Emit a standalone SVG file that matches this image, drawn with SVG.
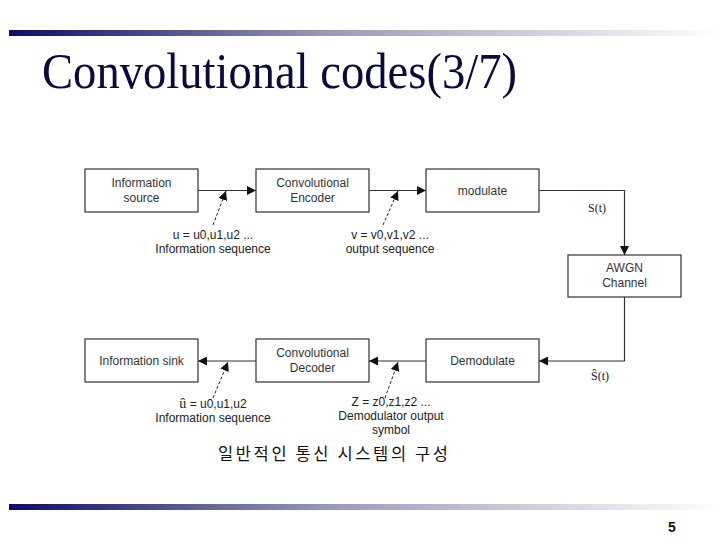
<svg xmlns="http://www.w3.org/2000/svg" width="720" height="540" viewBox="0 0 720 540">
<defs>
<linearGradient id="bar" x1="0" y1="0" x2="1" y2="0">
<stop offset="0" stop-color="#0c0c66"/>
<stop offset="0.45" stop-color="#9a9ab8"/>
<stop offset="1" stop-color="#ffffff"/>
</linearGradient>
<marker id="ah" viewBox="0 0 10 10" refX="10" refY="5" markerWidth="9" markerHeight="9" markerUnits="userSpaceOnUse" orient="auto">
<path d="M0,0 L10,5 L0,10 z" fill="#111"/>
</marker>
</defs>
<style>
.box{fill:#fff;stroke:#333;stroke-width:1.2}
.bt{font-family:"Liberation Sans",Arial,sans-serif;font-size:12px;fill:#333;text-anchor:middle}
.lb{font-family:"Liberation Sans",Arial,sans-serif;font-size:12px;fill:#222;text-anchor:middle}
.ser{font-family:"Liberation Serif","Times New Roman",serif;font-size:12px;fill:#222}
.ln{fill:none;stroke:#333;stroke-width:1.2}
.dl{fill:none;stroke:#222;stroke-width:1;stroke-dasharray:3,2}
</style>
<rect width="720" height="540" fill="#fff"/>
<rect x="9" y="30" width="711" height="6" fill="url(#bar)"/>
<rect x="9" y="504" width="711" height="6" fill="url(#bar)"/>
<text x="42" y="88" font-family="'Liberation Serif','Times New Roman',serif" font-size="50" fill="#0a0a3c" textLength="475" lengthAdjust="spacingAndGlyphs">Convolutional codes(3/7)</text>

<g id="connectors">
<line class="ln" x1="198" y1="190.5" x2="256" y2="190.5" marker-end="url(#ah)"/>
<line class="ln" x1="369" y1="190.5" x2="426" y2="190.5" marker-end="url(#ah)"/>
<polyline class="ln" points="539,190.5 624.5,190.5 624.5,255" marker-end="url(#ah)"/>
<polyline class="ln" points="624.5,297 624.5,361 539,361" marker-end="url(#ah)"/>
<line class="ln" x1="426" y1="361" x2="369" y2="361" marker-end="url(#ah)"/>
<line class="ln" x1="256" y1="361" x2="198" y2="361" marker-end="url(#ah)"/>
<line class="dl" x1="213" y1="225" x2="226" y2="191" marker-end="url(#ah)"/>
<line class="dl" x1="383" y1="225" x2="398" y2="191" marker-end="url(#ah)"/>
<line class="dl" x1="213" y1="398" x2="228" y2="362" marker-end="url(#ah)"/>
<line class="dl" x1="385" y1="398" x2="398" y2="362" marker-end="url(#ah)"/>
</g>

<g id="source"><rect class="box" x="85" y="169" width="113" height="43"/>
<text class="bt" x="141.5" y="187">Information</text><text class="bt" x="141.5" y="202">source</text></g>
<g id="encoder"><rect class="box" x="256" y="169" width="113" height="43"/>
<text class="bt" x="312.5" y="187">Convolutional</text><text class="bt" x="312.5" y="202">Encoder</text></g>
<g id="modulate"><rect class="box" x="426" y="169" width="113" height="43"/>
<text class="bt" x="482.5" y="195">modulate</text></g>
<g id="awgn"><rect class="box" x="568" y="255" width="113" height="42"/>
<text class="bt" x="624.5" y="272">AWGN</text><text class="bt" x="624.5" y="287">Channel</text></g>
<g id="sink"><rect class="box" x="85" y="339" width="113" height="43"/>
<text class="bt" x="141.5" y="365">Information sink</text></g>
<g id="decoder"><rect class="box" x="256" y="339" width="113" height="43"/>
<text class="bt" x="312.5" y="357">Convolutional</text><text class="bt" x="312.5" y="372">Decoder</text></g>
<g id="demodulate"><rect class="box" x="426" y="339" width="113" height="43"/>
<text class="bt" x="482.5" y="365">Demodulate</text></g>

<g id="labels">
<text class="lb" x="213" y="239">u = u0,u1,u2 ...</text>
<text class="lb" x="213" y="253">Information sequence</text>
<text class="lb" x="390" y="239">v = v0,v1,v2 ...</text>
<text class="lb" x="390" y="253">output sequence</text>
<text class="ser" x="588" y="212">S(t)</text>
<text class="ser" x="591" y="380">Ŝ(t)</text>
<text class="lb" x="213" y="408"><tspan font-family="'Liberation Serif',serif" font-size="14">û</tspan> = u0,u1,u2</text>
<text class="lb" x="213" y="422">Information sequence</text>
<text class="lb" x="391" y="406">Z = z0,z1,z2 ...</text>
<text class="lb" x="391" y="420">Demodulator output</text>
<text class="lb" x="391" y="434">symbol</text>
<text x="333" y="460" text-anchor="middle" font-family="'Noto Sans CJK KR',sans-serif" font-size="16.5" fill="#111" textLength="230" lengthAdjust="spacing">일반적인 통신 시스템의 구성</text>
<text x="672" y="532" text-anchor="middle" font-family="'Liberation Sans',Arial,sans-serif" font-size="14" font-weight="bold" fill="#111">5</text>
</g>
</svg>
